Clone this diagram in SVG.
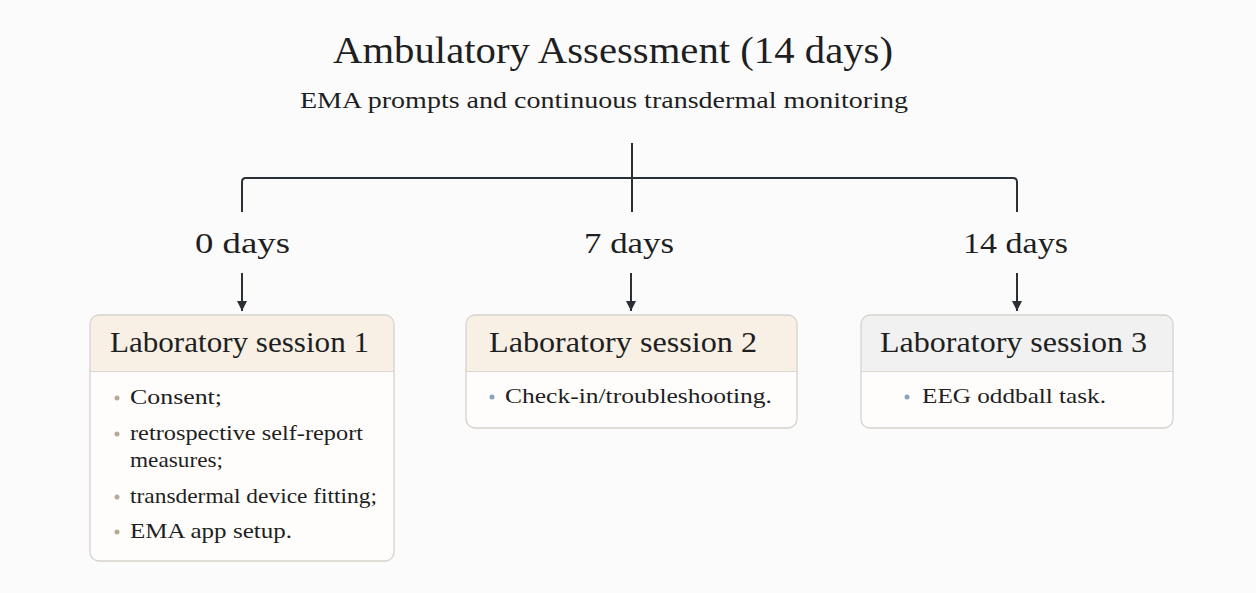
<svg xmlns="http://www.w3.org/2000/svg" width="1256" height="593" viewBox="0 0 1256 593">
  <style>
    text { font-family: "Liberation Serif", "DejaVu Serif", serif; fill: #1e1f22; }
    .title { font-size: 37px; }
    .subtitle { font-size: 23px; }
    .day { font-size: 30px; }
    .head { font-size: 30px; }
    .item { font-size: 21.5px; }
    .line { fill: none; stroke: #2b2f36; stroke-width: 2; }
    .card { fill: #fefdfc; }
    .edge { fill: none; stroke: #d6d2cd; stroke-width: 1.3; }
    .sep { stroke: #ddd7d0; stroke-width: 1.2; }
  </style>
  <defs>
    <marker id="arrow" viewBox="0 0 10 10" refX="10" refY="5" markerWidth="5" markerHeight="5.5" orient="auto" markerUnits="strokeWidth">
      <path d="M0,0 L10,5 L0,10 z" fill="#2b2f36"/>
    </marker>
    <clipPath id="clip1"><rect x="90" y="315" width="304" height="246" rx="9"/></clipPath>
    <clipPath id="clip2"><rect x="466" y="315" width="331" height="113" rx="9"/></clipPath>
    <clipPath id="clip3"><rect x="861" y="315" width="312" height="113" rx="9"/></clipPath>
  </defs>

  <rect width="1256" height="593" fill="#fcfbfb"/>

  <g id="header">
    <text class="title" x="333" y="63" textLength="560" lengthAdjust="spacingAndGlyphs">Ambulatory Assessment (14 days)</text>
    <text class="subtitle" x="300" y="108" textLength="608" lengthAdjust="spacingAndGlyphs">EMA prompts and continuous transdermal monitoring</text>
  </g>

  <g id="connectors">
    <path class="line" d="M632,143 V212"/>
    <path class="line" d="M242,212 V182 Q242,178 246,178 H1013 Q1017,178 1017,182 V212"/>
    <path class="line" d="M242,273 V311" marker-end="url(#arrow)"/>
    <path class="line" d="M631,273 V311" marker-end="url(#arrow)"/>
    <path class="line" d="M1017,273 V311" marker-end="url(#arrow)"/>
  </g>

  <g id="day-labels">
    <text class="day" x="195" y="253" textLength="95" lengthAdjust="spacingAndGlyphs">0 days</text>
    <text class="day" x="584" y="253" textLength="90" lengthAdjust="spacingAndGlyphs">7 days</text>
    <text class="day" x="963" y="253" textLength="105" lengthAdjust="spacingAndGlyphs">14 days</text>
  </g>

  <g id="session1">
    <rect class="card" x="90" y="315" width="304" height="246" rx="9"/>
    <rect x="90" y="315" width="304" height="56" fill="#f8efe5" clip-path="url(#clip1)"/>
    <line class="sep" x1="90" y1="371.5" x2="394" y2="371.5"/>
    <rect class="edge" x="90" y="315" width="304" height="246" rx="9"/>
    <text class="head" x="110" y="352" textLength="259" lengthAdjust="spacingAndGlyphs">Laboratory session 1</text>
    <g fill="#b9a894">
      <circle cx="117" cy="398" r="2.5"/>
      <circle cx="117" cy="434" r="2.5"/>
      <circle cx="117" cy="497" r="2.5"/>
      <circle cx="117" cy="532" r="2.5"/>
    </g>
    <text class="item" x="130" y="404" textLength="92" lengthAdjust="spacingAndGlyphs">Consent;</text>
    <text class="item" x="130" y="440" textLength="233" lengthAdjust="spacingAndGlyphs">retrospective self-report</text>
    <text class="item" x="130" y="467" textLength="93" lengthAdjust="spacingAndGlyphs">measures;</text>
    <text class="item" x="130" y="503" textLength="247" lengthAdjust="spacingAndGlyphs">transdermal device fitting;</text>
    <text class="item" x="130" y="538" textLength="162" lengthAdjust="spacingAndGlyphs">EMA app setup.</text>
  </g>

  <g id="session2">
    <rect class="card" x="466" y="315" width="331" height="113" rx="9"/>
    <rect x="466" y="315" width="331" height="56" fill="#f8efe5" clip-path="url(#clip2)"/>
    <line class="sep" x1="466" y1="371.5" x2="797" y2="371.5"/>
    <rect class="edge" x="466" y="315" width="331" height="113" rx="9"/>
    <text class="head" x="489" y="352" textLength="268" lengthAdjust="spacingAndGlyphs">Laboratory session 2</text>
    <circle cx="492" cy="397" r="2.5" fill="#8ba1c0"/>
    <text class="item" x="505" y="403" textLength="267" lengthAdjust="spacingAndGlyphs">Check-in/troubleshooting.</text>
  </g>

  <g id="session3">
    <rect class="card" x="861" y="315" width="312" height="113" rx="9"/>
    <rect x="861" y="315" width="312" height="56" fill="#f1f1f1" clip-path="url(#clip3)"/>
    <line class="sep" x1="861" y1="371.5" x2="1173" y2="371.5"/>
    <rect class="edge" x="861" y="315" width="312" height="113" rx="9" stroke="#d3d3d3"/>
    <text class="head" x="880" y="352" textLength="267" lengthAdjust="spacingAndGlyphs">Laboratory session 3</text>
    <circle cx="907" cy="397" r="2.5" fill="#8ba1c0"/>
    <text class="item" x="922" y="403" textLength="184" lengthAdjust="spacingAndGlyphs">EEG oddball task.</text>
  </g>
</svg>
